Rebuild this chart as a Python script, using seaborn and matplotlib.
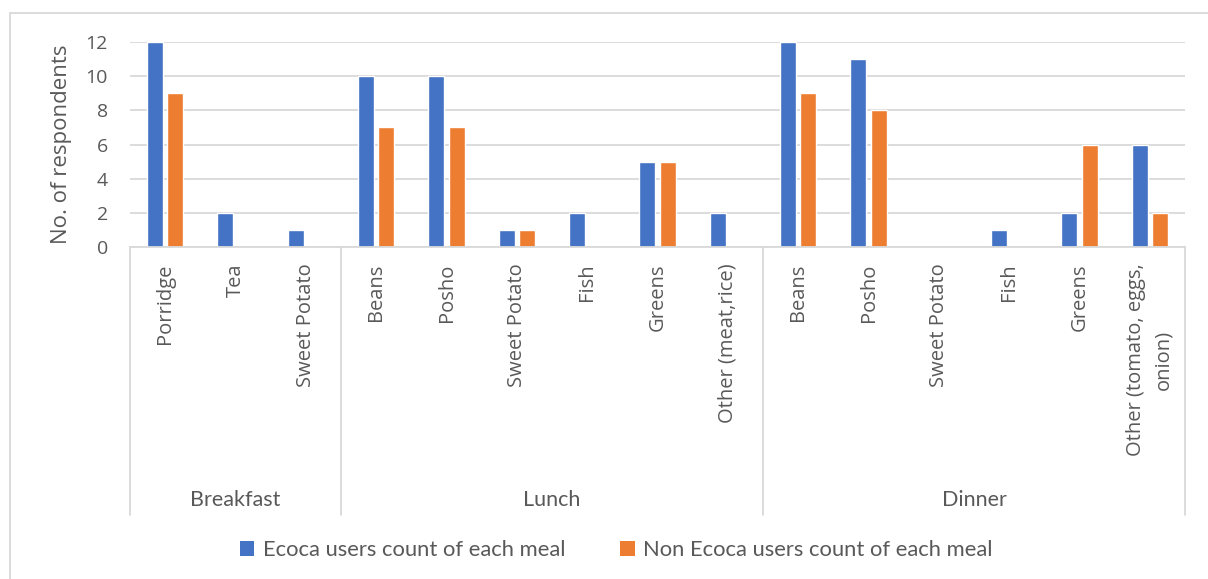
import matplotlib
matplotlib.use("Agg")
import matplotlib.pyplot as plt
import matplotlib.transforms as mtransforms
from matplotlib.patches import Rectangle, Patch
import pandas as pd
import seaborn as sns

# Meal groups and the foods counted in each
meals = ["Breakfast", "Lunch", "Dinner"]
breakfast_foods = ["Porridge", "Tea", "Sweet Potato"]
lunch_foods = ["Beans", "Posho", "Sweet Potato", "Fish", "Greens", "Other (meat,rice)"]
dinner_foods = ["Beans", "Posho", "Sweet Potato", "Fish", "Greens", "Other (tomato, eggs,\nonion)"]

# Respondent counts per food, in the same order as above
ecoca_users = [12, 2, 1, 10, 10, 1, 2, 5, 2, 12, 11, 0, 1, 2, 6]
non_ecoca_users = [9, 0, 0, 7, 7, 1, 0, 5, 0, 9, 8, 0, 0, 6, 2]

series_names = ["Ecoca users count of each meal", "Non Ecoca users count of each meal"]
y_ticks = [0, 2, 4, 6, 8, 10, 12]

foods = breakfast_foods + lunch_foods + dinner_foods
group_sizes = [len(breakfast_foods), len(lunch_foods), len(dinner_foods)]
keys = [f"{i:02d}" for i in range(len(foods))]

df = pd.DataFrame({
    "key": keys * 2,
    "count": ecoca_users + non_ecoca_users,
    "series": [series_names[0]] * len(foods) + [series_names[1]] * len(foods),
})

TEXT = "#595959"
GRID = "#D9D9D9"
palette = {series_names[0]: "#4472C4", series_names[1]: "#ED7D31"}

sns.set_style("white")
plt.rcParams["font.family"] = ["Open Sans", "DejaVu Sans"]

W, H = 1208, 579
fig = plt.figure(figsize=(W / 100, H / 100), dpi=100)
ax = fig.add_axes([130 / W, 1 - 247 / H, (1185 - 130) / W, (247 - 42) / H])

sns.barplot(data=df, x="key", y="count", hue="series", order=keys,
            hue_order=series_names, palette=palette, width=0.57, gap=0.2,
            saturation=1, ax=ax, legend=False)

ax.set_xlim(-0.5, len(foods) - 0.5)
ax.set_ylim(0, 12)
ax.set_yticks(y_ticks)
ax.set_yticklabels([str(v) for v in y_ticks], fontsize=14, color=TEXT)
ax.grid(axis="y", color=GRID, linewidth=1.3)
ax.set_axisbelow(True)
for side in ["top", "right", "left"]:
    ax.spines[side].set_visible(False)
ax.spines["bottom"].set_color(GRID)
ax.spines["bottom"].set_linewidth(1.3)
ax.tick_params(axis="both", length=0)
ax.tick_params(axis="y", pad=16)

ax.set_xticks(range(len(foods)))
ax.set_xticklabels(foods, rotation=90, fontsize=14.5, color=TEXT,
                   multialignment="center", linespacing=1.45)
ax.tick_params(axis="x", pad=12)
ax.set_xlabel("")
ax.set_ylabel("No. of respondents", fontsize=16, color=TEXT)
ax.yaxis.set_label_coords(-0.055, 0.5)

# Group dividers and meal labels under the food labels
trans = mtransforms.blended_transform_factory(ax.transData, ax.transAxes)
axis_h = 247 - 42
bottom_frac = -(515 - 247) / axis_h
label_frac = -(500 - 247) / axis_h
edges = [-0.5]
for n in group_sizes:
    edges.append(edges[-1] + n)
for e in edges:
    ax.plot([e, e], [0, bottom_frac], transform=trans, color=GRID,
            linewidth=1.3, clip_on=False)
for meal, a, b in zip(meals, edges[:-1], edges[1:]):
    ax.text((a + b) / 2, label_frac, meal, transform=trans, ha="center",
            va="center", fontsize=15.5, color=TEXT, family=["Lato", "DejaVu Sans"])

# Chart frame
fig.patches.append(Rectangle((10 / W, -0.1), 1.2, 1 - 13 / H + 0.1,
                             transform=fig.transFigure, fill=False,
                             edgecolor=GRID, linewidth=1.3))

handles = [Patch(facecolor=palette[s], edgecolor="none") for s in series_names]
fig.legend(handles, series_names, loc="center", ncol=2,
           bbox_to_anchor=(616.5 / W, 1 - 550 / H), frameon=False,
           handlelength=0.65, handleheight=0.65, handletextpad=0.4,
           columnspacing=2.5, prop={"family": ["Lato", "DejaVu Sans"], "size": 15.8},
           labelcolor=TEXT)

fig.savefig("out.png", dpi=100)
